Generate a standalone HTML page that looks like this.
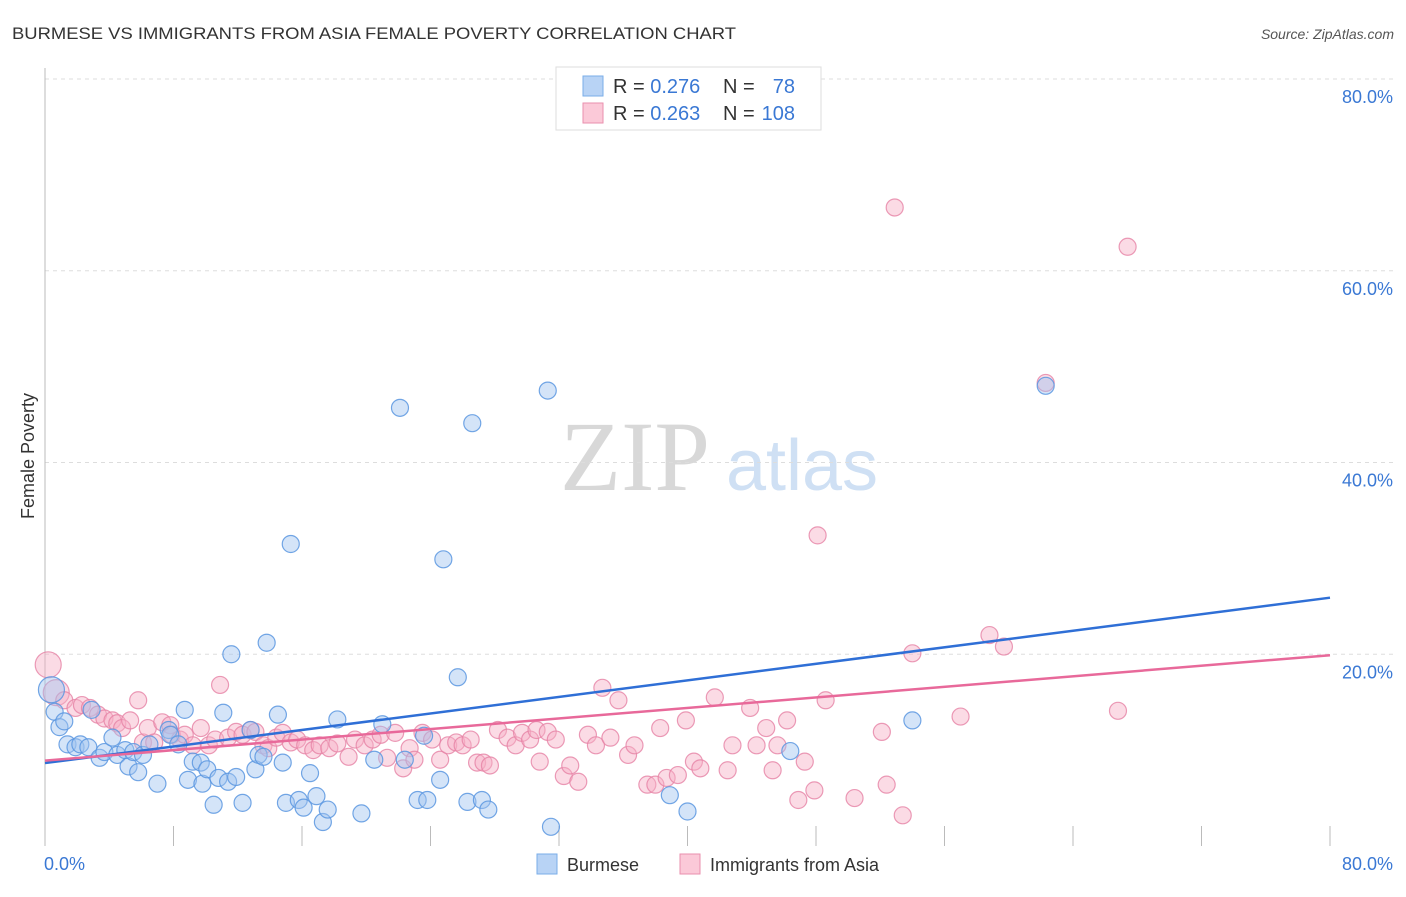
<!DOCTYPE html>
<html><head><meta charset="utf-8"><style>
body{margin:0;background:#fff;font-family:"Liberation Sans",sans-serif;}
</style></head><body>
<svg id="chart" width="1406" height="892" xmlns="http://www.w3.org/2000/svg" font-family="Liberation Sans, sans-serif">
<text x="12" y="39" font-size="17" fill="#333" textLength="724" lengthAdjust="spacingAndGlyphs">BURMESE VS IMMIGRANTS FROM ASIA FEMALE POVERTY CORRELATION CHART</text>
<text x="1394" y="39" font-size="14" fill="#555" font-style="italic" text-anchor="end">Source: ZipAtlas.com</text>
<text transform="translate(34,456) rotate(-90)" font-size="18" fill="#333" text-anchor="middle">Female Poverty</text>
<g>
<text x="635" y="490" font-size="100" fill="#d8d8d8" style="font-family:'Liberation Serif',serif" text-anchor="middle">ZIP</text>
<text x="802" y="490" font-size="72" fill="#cfe0f4" text-anchor="middle">atlas</text>
</g>
<g id="grid"></g>
<g id="axes"></g>
<g id="pinkpts"></g>
<g id="bluepts"></g>
<g id="lines"></g>
<g>
<rect x="556" y="67" width="265" height="63" fill="#fff" stroke="#ddd"/>
<rect x="583" y="76" width="20" height="20" fill="#b8d3f5" stroke="#7aaee8"/>
<rect x="583" y="103" width="20" height="20" fill="#fbc9d8" stroke="#e98fae"/>
<text x="613" y="93" font-size="20" fill="#333">R = <tspan fill="#3a78d4">0.276</tspan></text>
<text x="723" y="93" font-size="20" fill="#333">N = </text><text x="795" y="93" font-size="20" fill="#3a78d4" text-anchor="end">78</text>
<text x="613" y="120" font-size="20" fill="#333">R = <tspan fill="#3a78d4">0.263</tspan></text>
<text x="723" y="120" font-size="20" fill="#333">N = </text><text x="795" y="120" font-size="20" fill="#3a78d4" text-anchor="end">108</text>
</g>
<g>
<rect x="537" y="854" width="20" height="20" fill="#b8d3f5" stroke="#7aaee8"/>
<text x="567" y="871" font-size="18" fill="#333">Burmese</text>
<rect x="680" y="854" width="20" height="20" fill="#fbc9d8" stroke="#e98fae"/>
<text x="710" y="871" font-size="18" fill="#333">Immigrants from Asia</text>
</g>
</svg>
<script>
const xTicks=[0,8,16,24,32,40,48,56,64,72,80];
const yTicks=[20,40,60,80];
const yTickLabels=["20.0%","40.0%","60.0%","80.0%"];
const xEndLabels=["0.0%","80.0%"];
const blueX=[0.4,0.6,0.9,1.2,1.4,1.9,2.2,2.7,2.9,3.4,3.7,4.2,4.5,5.0,5.2,5.5,5.8,6.1,6.5,7.0,7.7,7.8,8.3,8.7,8.9,9.2,9.7,9.8,10.1,10.5,10.8,11.1,11.4,11.6,11.9,12.3,12.8,13.1,13.3,13.6,13.8,14.5,14.8,15.0,15.3,15.8,16.1,16.5,16.9,17.3,17.6,18.2,19.7,20.5,21.0,22.1,22.4,23.2,23.6,23.8,24.6,24.8,25.7,26.3,26.6,27.2,27.6,31.3,31.5,38.9,40.0,46.4,54.0,62.3];
const blueY=[16.3,14.0,12.4,13.0,10.6,10.3,10.6,10.3,14.2,9.2,9.8,11.3,9.5,10.0,8.3,9.8,7.7,9.5,10.6,6.5,12.1,11.6,10.6,14.2,6.9,8.8,8.7,6.5,8.0,4.3,7.1,13.9,6.7,20.0,7.2,4.5,12.1,8.0,9.5,9.3,21.2,13.7,8.7,4.5,31.5,4.8,4.0,7.6,5.2,2.5,3.8,13.2,3.4,9.0,12.7,45.7,9.0,4.8,11.5,4.8,6.9,29.9,17.6,4.6,44.1,4.8,3.8,47.5,2.0,5.3,3.6,9.9,13.1,48.0];
const pinkX=[0.2,0.7,1.2,1.9,2.3,2.8,3.3,3.7,4.2,4.5,4.8,5.3,5.8,6.1,6.4,6.8,7.3,7.8,7.9,8.4,8.7,9.2,9.7,10.2,10.6,10.9,11.4,11.9,12.3,12.8,13.1,13.6,13.9,14.4,14.8,15.3,15.7,16.2,16.7,17.1,17.7,18.2,18.9,19.3,19.9,20.4,20.9,21.3,21.8,22.3,22.7,23.0,23.5,24.1,24.6,25.1,25.6,26.0,26.5,26.9,27.3,27.7,28.2,28.8,29.3,29.7,30.2,30.6,30.8,31.3,31.8,32.3,32.7,33.2,33.8,34.3,34.7,35.2,35.7,36.3,36.7,37.5,38.0,38.3,38.7,39.4,39.9,40.4,40.8,41.7,42.5,42.8,43.9,44.3,44.9,45.3,45.6,46.2,46.9,47.3,47.9,48.1,48.6,50.4,52.1,52.4,52.9,53.4,54.0,57.0,58.8,59.7,62.3,66.8,67.4];
const pinkY=[18.9,16.0,15.2,14.4,14.7,14.4,13.7,13.3,13.1,12.8,12.3,13.1,15.2,10.8,12.3,10.8,12.9,12.6,11.6,11.1,11.6,10.5,12.3,10.5,11.1,16.8,11.3,11.9,11.6,12.1,11.9,10.5,10.2,11.3,11.8,10.8,11.1,10.5,10.0,10.5,10.2,10.7,9.3,11.1,10.5,11.1,11.6,9.2,11.8,8.1,10.2,9.0,11.8,11.1,9.0,10.5,10.8,10.5,11.1,8.7,8.7,8.4,12.1,11.3,10.5,11.8,11.1,12.1,8.8,11.9,11.1,7.3,8.4,6.7,11.6,10.5,16.5,11.3,15.2,9.5,10.5,6.4,6.4,12.3,7.1,7.4,13.1,8.8,8.1,15.5,7.9,10.5,14.4,10.5,12.3,7.9,10.5,13.1,4.8,8.8,5.8,32.4,15.2,5.0,11.9,6.4,66.6,3.2,20.1,13.5,22.0,20.8,48.3,14.1,62.5];
const blueFit=[8.65,25.9];
const pinkFit=[8.9,19.9];
const NS="http://www.w3.org/2000/svg";
const X0=45,X1=1330,Y0=846,Y80=79;
function sx(v){return X0+(X1-X0)*v/80;}
function sy(v){return Y0-(Y0-Y80)*v/80;}
function mk(tag,attrs,parent){const e=document.createElementNS(NS,tag);for(const k in attrs)e.setAttribute(k,attrs[k]);parent.appendChild(e);return e;}
const grid=document.getElementById('grid'),axes=document.getElementById('axes');
yTicks.forEach((t,i)=>{
 const l=mk('line',{x1:X0,x2:1394,y1:sy(t),y2:sy(t),stroke:'#ddd','stroke-dasharray':'4,4'},grid);
 
 
 const tx=mk('text',{x:1393,y:sy(t)+24,'font-size':18,fill:'#3a78d4','text-anchor':'end'},axes);
 tx.textContent=yTickLabels[i];
 
 
});
const yax=mk('line',{x1:X0,x2:X0,y1:68,y2:Y0,stroke:'#bbb'},axes);


xTicks.forEach(t=>{
 if(t===0)return;
 const l=mk('line',{x1:sx(t),x2:sx(t),y1:826,y2:Y0,stroke:'#bbb'},axes);
 
 
});
const xl=mk('text',{x:44,y:870,'font-size':18,fill:'#3a78d4'},axes);xl.textContent=xEndLabels[0];


const xr=mk('text',{x:1393,y:870,'font-size':18,fill:'#3a78d4','text-anchor':'end'},axes);xr.textContent=xEndLabels[1];


function pts(xs,ys,g,fill,stroke,name,bigCount){
 xs.forEach((x,i)=>{
  const r=(i<bigCount)?13:8.5;
  const c=mk('circle',{cx:sx(x),cy:sy(ys[i]),r:r,fill:fill,stroke:stroke,'stroke-width':1.2},g);
  
  
 });
}
pts(pinkX,pinkY,document.getElementById('pinkpts'),'rgba(246,176,198,0.45)','rgba(230,130,165,0.8)','asia-point',2);
pts(blueX,blueY,document.getElementById('bluepts'),'rgba(160,196,240,0.45)','rgba(90,150,225,0.85)','burmese-point',1);
const lg=document.getElementById('lines');
const bl=mk('line',{x1:sx(0),y1:sy(blueFit[0]),x2:sx(80),y2:sy(blueFit[1]),stroke:'#2f6fd6','stroke-width':2.5},lg);


const pl=mk('line',{x1:sx(0),y1:sy(pinkFit[0]),x2:sx(80),y2:sy(pinkFit[1]),stroke:'#e8699a','stroke-width':2.5},lg);


</script>
</body></html>
